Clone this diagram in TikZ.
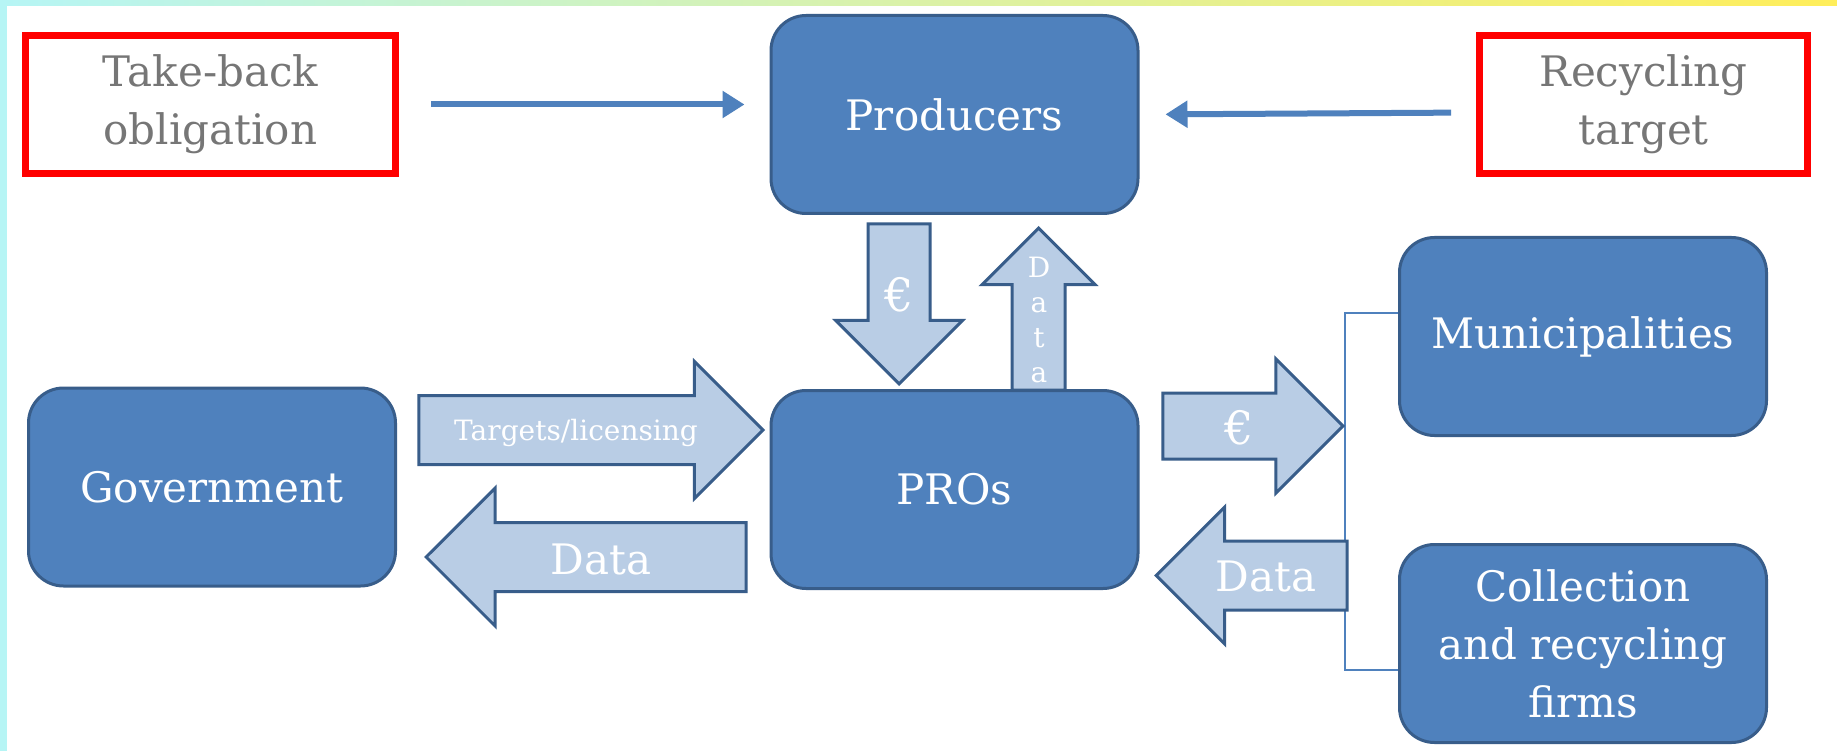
\documentclass[tikz,border=0pt]{standalone}
\usepackage{fontspec}
\setmainfont{DejaVu Serif}
\usetikzlibrary{shapes,arrows.meta,positioning}
\definecolor{boxblue}{RGB}{79,129,189}
\definecolor{boxline}{RGB}{56,93,138}
\definecolor{arrowfill}{RGB}{185,205,229}
\definecolor{textgray}{RGB}{118,118,118}
\definecolor{edgecyan}{RGB}{182,245,245}
\definecolor{edgegreen}{RGB}{185,230,200}
\definecolor{edgeyellow}{RGB}{255,238,90}
\newcommand{\boxfont}{\fontsize{42}{58}\selectfont}
\newcommand{\tinyfont}{\fontsize{28}{35}\selectfont}
\newcommand{\eurofont}{\fontsize{46}{50}\selectfont}

\begin{document}
\begin{tikzpicture}[x=1pt, y=-1pt,
    mainbox/.style={rectangle, rounded corners=35pt, draw=boxline, fill=boxblue, line width=3pt, minimum width=367pt, minimum height=198pt, text=white, align=center, font=\boxfont},
    redbox/.style={rectangle, draw=red, line width=7pt, minimum height=138pt, text=textgray, align=center, font=\boxfont},
    fatarrow/.style={single arrow, draw=boxline, fill=arrowfill, line width=3pt, single arrow tip angle=90, anchor=tip},
    thinarrow/.style={-{Triangle[length=22pt, width=26pt]}, line width=6pt, boxblue}]
    % page edges
    \fill[white] (0,0) rectangle (1837,751);
    \fill[edgecyan] (0,0) rectangle (7,751);
    \shade[left color=edgecyan, middle color=edgegreen, right color=edgeyellow] (0,0) rectangle (1837,6);
    \useasboundingbox (0,0) rectangle (1837,751);

    \node[redbox, minimum width=370pt] (takeback) at (210.5,104.5) {Take-back\\obligation};
    \node[redbox, minimum width=328pt] (recycling) at (1643.5,104.5) {Recycling\\target};
    \node[mainbox] (producers) at (954.5,114.5) {Producers};
    \node[mainbox, below=174pt of producers] (pros) {PROs};
    \node[mainbox] (gov) at (212,487) {Government};
    \node[mainbox] (muni) at (1583,336.5) {Municipalities};
    \node[mainbox, below=106pt of muni] (coll) {Collection\\and recycling\\firms};

    \draw[thinarrow, shorten <=32pt, shorten >=25pt] (takeback.east) -- (takeback.east -| producers.west);
    \draw[thinarrow, shorten <=25pt, shorten >=26pt] ([yshift=-8pt]recycling.west) -- (producers.east);

    % bracket to the two operators
    \coordinate (bracktop) at (1345,313);
    \coordinate (brackbot) at (1345,670);
    \draw[boxblue, line width=2pt] (muni.west |- bracktop) -- (bracktop) -- (brackbot) -- (coll.west |- brackbot);

    % flows
    \node[fatarrow, inner sep=33pt, single arrow head extend=34pt, minimum height=344pt] (targets) at (765,430) {};
    \node[fatarrow, inner sep=33pt, single arrow head extend=34.5pt, minimum height=320pt, shape border rotate=180] (govdata) at (424,557) {};
    \node[fatarrow, inner sep=29.5pt, single arrow head extend=32.5pt, minimum height=160pt, shape border rotate=270] (prodeuro) at (899,386) {};
    \node[fatarrow, inner sep=25pt, single arrow head extend=30pt, minimum height=162pt, shape border rotate=90] (proddata) at (1038.5,226) {};
    \node[fatarrow, inner sep=31.5pt, single arrow head extend=34pt, minimum height=180pt] (opeuro) at (1345,426) {};
    \node[fatarrow, inner sep=33pt, single arrow head extend=34pt, minimum height=191pt, shape border rotate=180] (opdata) at (1154,575.5) {};

    \node[text=white, font=\tinyfont] (targetslabel) at (576,433) {Targets/licensing};
    \node[text=white, font=\boxfont] (govdatalabel) at (601,559) {Data};
    \node[text=white, font=\eurofont] (prodeurolabel) at (899,295) {€};
    \node[text=white, font=\tinyfont, align=center] (proddatalabel) at (1039,320) {D\\a\\t\\a};
    \node[text=white, font=\eurofont] (opeurolabel) at (1239,428) {€};
    \node[text=white, font=\boxfont] (opdatalabel) at (1266,576) {Data};
\end{tikzpicture}
\end{document}
